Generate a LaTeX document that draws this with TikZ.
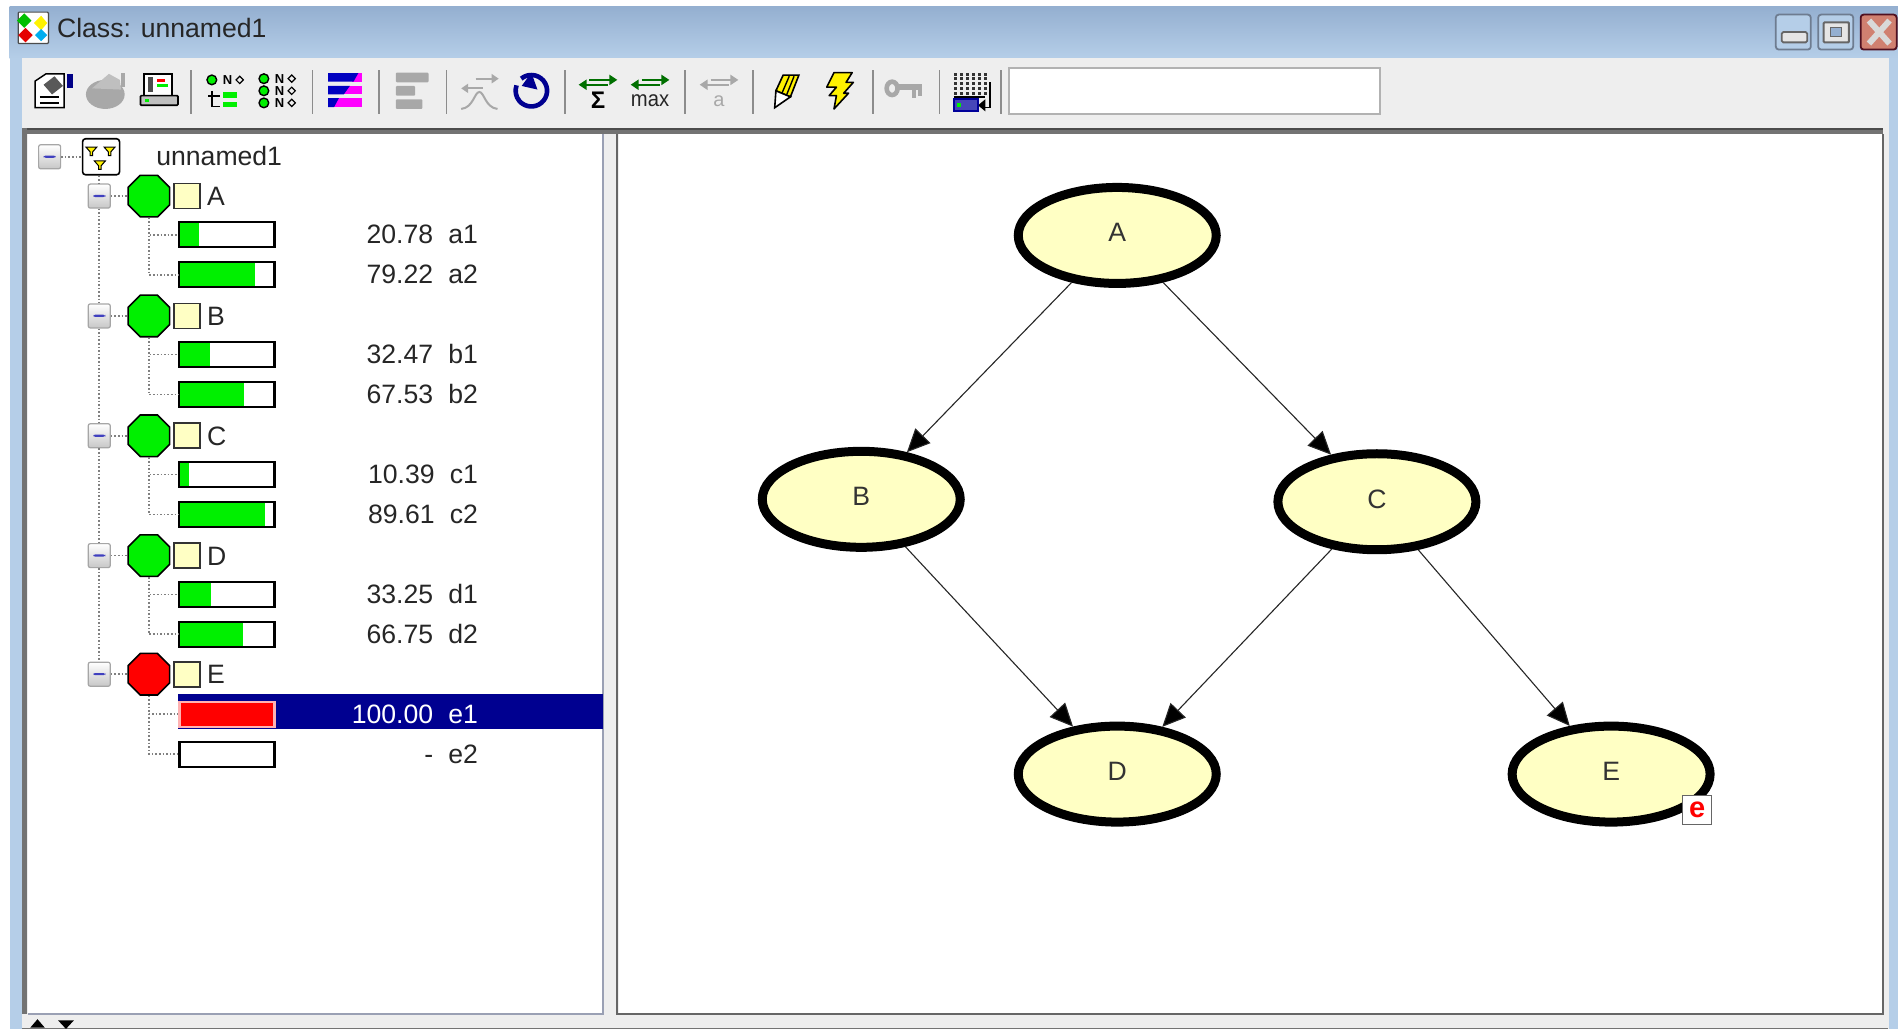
\documentclass[tikz,border=0pt]{standalone}
\usepackage{fontspec}
\setmainfont{Liberation Sans}
\newfontfamily\valfam[WordSpace=2.05]{Liberation Sans}
\usetikzlibrary{shapes.geometric,arrows.meta}
\definecolor{barblue}{HTML}{B5CEE8}
\definecolor{bartop}{HTML}{94AFD0}
\definecolor{toolgray}{HTML}{EEEEEE}
\definecolor{nodeyellow}{HTML}{FFFFC4}
\definecolor{selblue}{HTML}{000090}
\definecolor{iconred}{HTML}{FF0000}
\definecolor{icongreen}{HTML}{00F000}
\definecolor{darkgreen}{HTML}{007000}
\definecolor{icongray}{HTML}{A8A8A8}
\definecolor{magent}{HTML}{FF00FF}
\definecolor{navy2}{HTML}{0000C0}
\definecolor{btnedge}{HTML}{6E7C90}
\definecolor{paneedge}{HTML}{9AA0B4}
\definecolor{closefill}{HTML}{D08070}
\definecolor{closeedge}{HTML}{501020}
\newcommand{\uifont}{\fontsize{26.6}{30}\selectfont}
\tikzset{
  bn/.style={ellipse,draw=black,fill=nodeyellow,line width=9pt,minimum width=198pt,minimum height=96pt,inner sep=0pt,text depth=6pt,font=\uifont,text=black!80},
  edge/.style={draw=black!85,line width=1.1pt,-{Triangle[length=23pt,width=21pt]}},
  barbox/.style={rectangle,draw=black,fill=white,line width=2.2pt,minimum width=95pt,minimum height=25pt,inner sep=0pt},
  val/.style={anchor=base east,inner sep=0pt,font=\valfam\uifont,text=black!85},
  octa/.style={regular polygon,regular polygon sides=8,draw=black,line width=1.6pt,minimum size=45pt,inner sep=0pt},
  swatch/.style={rectangle,draw=black!80,fill=nodeyellow,line width=1.6pt,minimum width=26pt,minimum height=25pt,inner sep=0pt},
  vname/.style={anchor=base west,inner sep=0pt,font=\uifont,text=black!85},
  minusbox/.style={rectangle,rounded corners=2pt,draw=black!35,top color=white,bottom color=black!22,line width=1.2pt,minimum width=22pt,minimum height=24pt,inner sep=0pt,
    path picture={\fill[blue!50!gray] ([xshift=-6pt,yshift=-1pt]path picture bounding box.center) rectangle ([xshift=6pt,yshift=1.2pt]path picture bounding box.center);}},
  tree/.style={draw=black!50,dotted,line width=1.6pt},
  sep/.style={draw=black!45,line width=1.6pt},
  winbtn/.style={rectangle,rounded corners=3pt,draw=btnedge,line width=1.8pt,minimum width=35pt,minimum height=35pt,inner sep=0pt},
}
\newcommand{\varrow}[4]{%
  \node[barbox] (#1) at (187.5,#2) {};
  \fill[icongreen] (149,#2-9.5) rectangle (148+79*#3,#2+9.5);
  \node[val] (#1t) at (395,#2+7.5) {#4};
}
\newcommand{\vhead}[4]{%
  \node[minusbox] (box#1) at (82,#2) {};
  \node[octa,fill=#3] (oct#1) at (123,#2) {};
  \node[swatch] (sw#1) at (154.5,#2) {};
  \node[vname] (lab#1) at (171,#2+8) {#4};
  \draw[tree] (box#1.east) -- (oct#1.west);
}
\begin{document}
\begin{tikzpicture}[x=1.2105pt,y=-1.2105pt]
\useasboundingbox (0,0) rectangle (1568,850);
\fill[white] (0,0) rectangle (1568,850);
% window frame
\fill[barblue] (8,48) rectangle (1568,850);
\shade[top color=bartop,bottom color=barblue,draw=none] (8,5) rectangle (1568,48);
\fill[toolgray] (18,48) rectangle (1560.5,850);
% title
\node[inner sep=0pt,anchor=base west,font=\uifont,text=black!85] (title) at (47,31) {Class: unnamed1};
\begin{scope}[shift={(27,23)}]
  \draw[black!70,fill=white,rounded corners=1pt,line width=1.2pt] (-12,-13) rectangle (13,13);
  \fill[green!75!black] (-7,-12) -- (-1,-6) -- (-7,0) -- (-13,-6) -- cycle;
  \fill[yellow] (7,-10) -- (12,-4) -- (7,2) -- (1,-4) -- cycle;
  \fill[red!90!black] (-6,0) -- (0,6) -- (-6,12) -- (-12,6) -- cycle;
  \fill[cyan] (7,1) -- (12,6) -- (7,11) -- (2,6) -- cycle;
\end{scope}
% window buttons
\node[winbtn,fill=barblue] (minbtn) at (1481.5,26.5) {};
\node[winbtn,fill=barblue] (maxbtn) at (1516.5,26.5) {};
\node[winbtn,draw=closeedge,fill=closefill,minimum width=36pt] (closebtn) at (1552,26.5) {};
\draw[black!60,fill=black!10,rounded corners=1.5pt,line width=1.8pt] (1472,26.5) rectangle (1493,35);
\draw[black!60,fill=black!10,line width=2pt,rounded corners=1pt] (1506.5,18.5) rectangle (1527.5,35);
\draw[black!60,fill=bartop,line width=1pt] (1512,23) rectangle (1521,30);
\draw[white!85!black,line width=6pt] (1544,17) -- (1561,36) (1561,17) -- (1544,36);
% toolbar separators
\foreach \sx/\sn in {158/a,258/b,313/c,369/d,467/e,566/f,622/g,721/h,776/i,827/j}{
  \draw[sep] (\sx,58) -- (\sx,94);
}
% text box
\node[rectangle,draw=black!30,fill=white,line width=1.8pt,minimum width=371pt,minimum height=46pt,inner sep=0pt] (search) at (987,75.5) {};
% icon 1 properties
\begin{scope}[shift={(44,75)}]
  \draw[black,fill=white,line width=1.5pt] (-15,-8) -- (-6,-14) -- (9,-14) -- (9,14) -- (-15,14) -- cycle;
  \fill[black!65] (-8,-5) -- (1,-12) -- (8,-4) -- (-1,3) -- cycle;
  \fill[navy2!70!black] (11,-14) rectangle (16,-2);
  \draw[black,line width=1.6pt] (-11,5) -- (5,5) (-11,10) -- (5,10);
\end{scope}
% icon 2 pot
\begin{scope}[shift={(88,75)}]
  \fill[icongray] (-1,3) ellipse (16 and 12);
  \fill[black!25] (-12,-2) -- (2,-14) -- (11,-9) -- (12,-1) -- cycle;
  \fill[icongray] (12,-15) rectangle (15,-3);
\end{scope}
% icon 3 computer
\begin{scope}[shift={(131,74)}]
  \draw[black,fill=white,line width=1.5pt] (-12,-13) rectangle (11,5);
  \fill[iconred] (-1,-9) rectangle (5,-6);
  \fill[icongreen] (-1,-5) rectangle (8,-2);
  \fill[black!70] (-9,-10) rectangle (-5,2);
  \draw[black,fill=black!25,line width=1.7pt,rounded corners=1pt] (-15,5) rectangle (16,13);
  \fill[icongreen] (-11,8) rectangle (-8,10);
\end{scope}
% icon 4 tree N
\begin{scope}[shift={(185,75)}]
  \draw[black,fill=icongreen,line width=1.4pt] (-10,-9) circle (4);
  \node[font=\fontsize{13}{13}\selectfont\bfseries,inner sep=0pt] (ni) at (3,-9) {N};
  \draw[black,line width=1.2pt] (13,-12) -- (16,-9) -- (13,-6) -- (10,-9) -- cycle;
  \draw[black,line width=1.8pt] (-10,0) -- (-10,13) -- (-3,13) (-13,4) -- (-3,4);
  \fill[icongreen] (-1,1) rectangle (11,6);
  \fill[icongreen] (-1,9) rectangle (11,13);
\end{scope}
% icon 5 three N
\begin{scope}[shift={(229,75)}]
  \foreach \yy/\nn in {-10/n1,0/n2,10/n3}{
    \draw[black,fill=icongreen,line width=1.4pt] (-11,\yy) circle (4);
    \node[font=\fontsize{13}{13}\selectfont\bfseries,inner sep=0pt] (\nn) at (2,\yy) {N};
    \draw[black,line width=1.2pt] (12,\yy-3) -- (15,\yy) -- (12,\yy+3) -- (9,\yy) -- cycle;
  }
\end{scope}
% icon 6 bars
\begin{scope}[shift={(285,75)}]
  \fill[magent] (6,-14.5) rectangle (14,-7.5);
  \fill[navy2] (-14,-14.5) -- (11,-14.5) -- (7,-7.5) -- (-14,-7.5) -- cycle;
  \fill[magent] (-3,-4) rectangle (14,3);
  \fill[navy2] (-14,-4) -- (4,-4) -- (-1,3) -- (-14,3) -- cycle;
  \fill[magent] (-10,6) rectangle (14,13.5);
  \fill[navy2] (-14,6) -- (-5,6) -- (-9,13.5) -- (-14,13.5) -- cycle;
\end{scope}
% icon 7 gray bars
\begin{scope}[shift={(340,75)}]
  \fill[icongray,rounded corners=1pt] (-13,-15) rectangle (14,-7);
  \fill[icongray,rounded corners=1pt] (-13,-4) rectangle (3,4);
  \fill[icongray,rounded corners=1pt] (-13,7) rectangle (9,15);
\end{scope}
% icon 8 gray net
\begin{scope}[shift={(396,76)},-{Triangle[length=7pt,width=9pt]},line width=2pt,draw=icongray]
  \draw (-3,-11) -- (16,-11);
  \draw (3,-3) -- (-15,-3);
  \draw[-] (-15,14) .. controls (-5,13) and (-4,0) .. (0,0) .. controls (4,0) and (5,13) .. (15,14);
\end{scope}
% icon 9 blue circular arrow
\begin{scope}[shift={(439,76)}]
  \draw[navy2!75!black,line width=4.6pt] (-8.4,-11) arc (-130:200:13);
  \fill[navy2!75!black] (0,-16) -- (-8,-5) -- (5,-2) -- cycle;
\end{scope}
% icon 10 sum
\begin{scope}[shift={(494,76)}]
  \draw[darkgreen,line width=2pt,-{Triangle[length=8pt,width=10pt]}] (-7,-10) -- (16,-10);
  \draw[darkgreen,line width=2pt,-{Triangle[length=8pt,width=10pt]}] (8,-6) -- (-16,-6);
  \node[font=\fontsize{24}{24}\selectfont\bfseries,inner sep=0pt] (sumt) at (0,7) {Σ};
\end{scope}
% icon 11 max
\begin{scope}[shift={(537,76)}]
  \draw[darkgreen,line width=2pt,-{Triangle[length=8pt,width=10pt]}] (-7,-10) -- (16,-10);
  \draw[darkgreen,line width=2pt,-{Triangle[length=8pt,width=10pt]}] (8,-6) -- (-16,-6);
  \node[font=\fontsize{22}{22}\selectfont,inner sep=0pt,text=black!85,xscale=0.92] (maxt) at (0,7) {max};
\end{scope}
% icon 12 gray a
\begin{scope}[shift={(594,76)}]
  \draw[icongray,line width=2pt,-{Triangle[length=8pt,width=10pt]}] (-7,-10) -- (16,-10);
  \draw[icongray,line width=2pt,-{Triangle[length=8pt,width=10pt]}] (8,-6) -- (-16,-6);
  \node[font=\fontsize{20}{20}\selectfont,inner sep=0pt,text=icongray] (at) at (0,8) {a};
\end{scope}
% icon 13 pencil
\begin{scope}[shift={(650,75)}]
  \draw[black,fill=yellow,line width=1.6pt] (-3,-13) -- (10,-13) -- (3,5) -- (-9,0) -- cycle;
  \draw[black,fill=white,line width=1.6pt] (-9,0) -- (3,5) -- (-10,14) -- cycle;
  \draw[black,line width=1.4pt] (2,-12) -- (-4,2) (6,-12) -- (0,3);
\end{scope}
% icon 14 lightning
\begin{scope}[shift={(694,75)}]
  \draw[black,fill=yellow,line width=1.6pt,line join=round] (-5,-15) -- (10,-15) -- (5,-7) -- (11,-7) -- (3,2) -- (7,2) -- (-5,15) -- (-3,4) -- (-9,4) -- (-3,-3) -- (-11,-3) -- cycle;
\end{scope}
% icon 15 key
\begin{scope}[shift={(747,74)}]
  \draw[icongray,line width=4.6pt] (-10,-1) ellipse (4.5 and 5.5);
  \draw[icongray,line width=5.5pt] (-4,-2) -- (15,-2);
  \draw[icongray,line width=3.4pt] (8,0) -- (8,7) (13,0) -- (13,5);
\end{scope}
% icon 16 grid
\begin{scope}[shift={(803,75)}]
  \foreach \gx in {-15,-10,-5,0,5,10}{
    \foreach \gy in {-15,-11,-7,-3,1}{
      \fill[black!80] (\gx,\gy) rectangle (\gx+2.6,\gy+2.4);
    }
  }
  \draw[black,line width=1.4pt] (-15,5) -- (11,5) (15,-7) -- (15,14) -- (8,14);
  \fill[black] (5,12) -- (11,7) -- (11,17) -- cycle;
  \draw[navy2!80!black,fill=blue!45!gray,line width=1.8pt] (-15,7) rectangle (5,17);
  \fill[icongreen] (-12,10.5) rectangle (-9,13.5);
\end{scope}
% panes
\fill[black!55] (18,105.5) rectangle (1556,111);
\fill[black!70] (18,105.5) rectangle (1556,107.5);
\fill[black!55] (18,105.5) rectangle (22.5,838);
\fill[white] (23,111) rectangle (498,837);
\fill[white] (511,111) rectangle (1555,837);
\draw[paneedge,line width=1.6pt] (23,837.5) -- (498,837.5) -- (498,111);
\draw[black!60,line width=2pt] (509.5,111) -- (509.5,838) -- (1556,838) -- (1556,111);
\draw[black!55,line width=1.5pt] (18,849.5) -- (1560,849.5);
\fill[black] (25,849) -- (31,842) -- (37,849) -- cycle;
\fill[black] (48,843) -- (61,843) -- (54.5,850) -- cycle;
% tree root
\node[minusbox] (rootbox) at (41,129.5) {};
\node[rectangle,rounded corners=3pt,draw=black,fill=white,line width=1.6pt,minimum width=37pt,minimum height=36pt,inner sep=0pt] (root) at (83.5,129.5) {};
\foreach \tx/\ty in {-8/-5,7/-5,-1/6.5}{
  \fill[yellow,draw=black,line width=1pt] (83.5+\tx-4.5,129.5+\ty-3) -- (83.5+\tx+4.5,129.5+\ty-3) -- (83.5+\tx+1,129.5+\ty+1) -- (83.5+\tx+1,129.5+\ty+4) -- (83.5+\tx-1,129.5+\ty+4) -- (83.5+\tx-1,129.5+\ty+1) -- cycle;
}
\node[vname] (rootlab) at (129,137) {unnamed1};
\draw[tree] (rootbox.east) -- (root.west);
% variables
\vhead{A}{162}{icongreen}{A}
\varrow{aone}{194}{0.2078}{20.78 a1}
\varrow{atwo}{227}{0.7922}{79.22 a2}
\vhead{B}{261}{icongreen}{B}
\varrow{bone}{293}{0.3247}{32.47 b1}
\varrow{btwo}{326}{0.6753}{67.53 b2}
\vhead{C}{360}{icongreen}{C}
\varrow{cone}{392}{0.1039}{10.39 c1}
\varrow{ctwo}{425}{0.8961}{89.61 c2}
\vhead{D}{459}{icongreen}{D}
\varrow{done}{491}{0.3325}{33.25 d1}
\varrow{dtwo}{524}{0.6675}{66.75 d2}
\vhead{E}{557}{iconred}{E}
\fill[selblue] (147,573.5) rectangle (498,602);
\node[barbox,draw=red!30,fill=iconred] (eone) at (187.5,590) {};
\node[val,text=white] (eonet) at (395,597.5) {100.00 e1};
\node[barbox] (etwo) at (187.5,623) {};
\node[val] (etwot) at (395,630.5) {- e2};
% tree lines
\draw[tree] (root.south -| boxA.north) -- (boxA.north);
\draw[tree] (boxA.south) -- (boxB.north);
\draw[tree] (boxB.south) -- (boxC.north);
\draw[tree] (boxC.south) -- (boxD.north);
\draw[tree] (boxD.south) -- (boxE.north);
\draw[tree] (octA.south) |- (aone.west);
\draw[tree] (octA.south) |- (atwo.west);
\draw[tree] (octB.south) |- (bone.west);
\draw[tree] (octB.south) |- (btwo.west);
\draw[tree] (octC.south) |- (cone.west);
\draw[tree] (octC.south) |- (ctwo.west);
\draw[tree] (octD.south) |- (done.west);
\draw[tree] (octD.south) |- (dtwo.west);
\draw[tree] (octE.south) |- (eone.west);
\draw[tree] (octE.south) |- (etwo.west);
% network
\node[bn] (A) at (923,194.5) {A};
\node[bn] (B) at (711.5,412.5) {B};
\node[bn] (C) at (1137.5,414.5) {C};
\node[bn] (D) at (923,639.5) {D};
\node[bn] (E) at (1331,639.5) {E};
\path[edge] (A) edge (B);
\path[edge] (A) edge (C);
\path[edge] (B) edge (D);
\path[edge] (C) edge (D);
\path[edge] (C) edge (E);
\node[rectangle,draw=black!60,fill=white,line width=1.3pt,minimum width=29pt,minimum height=29pt,inner sep=0pt,text=red,font=\fontsize{29}{29}\selectfont\bfseries] (ebadge) at (1402,669) {e};
\end{tikzpicture}
\end{document}
